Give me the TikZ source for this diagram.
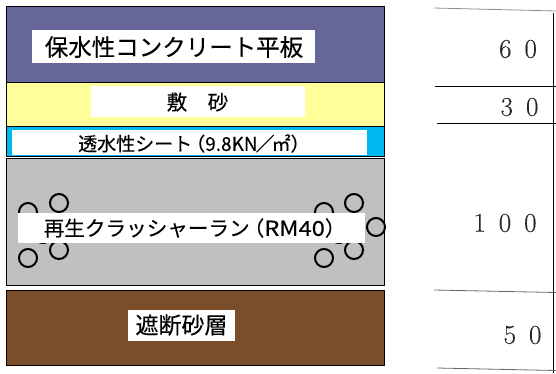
\documentclass[tikz,border=0pt]{standalone}
\usepackage{fontspec}
\setmainfont{Liberation Serif}
\newfontfamily\jpfont[FakeBold=0.25]{Noto Sans CJK JP}
\newfontfamily\numfont[FakeBold=0.3]{Latin Modern Roman}
\definecolor{cPurple}{HTML}{666699}
\definecolor{cYellow}{HTML}{FFFF99}
\definecolor{cBlue}{HTML}{00B8F0}
\definecolor{cGrey}{HTML}{C0C0C0}
\definecolor{cBrown}{HTML}{7A4E2B}
\tikzset{
  layer/.style={draw=black,line width=0.9pt},
  whitebox/.style={fill=white,draw=none},
  label/.style={inner sep=0pt,anchor=center,text=black,font=\jpfont},
  labelw/.style={label,anchor=west},
  stone/.style={draw=black,line width=2pt,fill=none},
  rulemain/.style={draw=black,line width=0.8pt},
  rulesoft/.style={draw=black!60,line width=0.8pt},
  num/.style={inner sep=0pt,anchor=center,text=black!85,font=\numfont\fontsize{27}{27}\selectfont}
}
\begin{document}
\begin{tikzpicture}[x=1pt,y=-1pt]
\useasboundingbox (0,0) rectangle (556,373);
% layers
\path[layer,fill=cPurple] (6.5,6.5) rectangle (384.5,82.5);
\path[layer,fill=cYellow] (6.5,82.5) rectangle (384.5,126.5);
\path[layer,fill=cBlue] (6.5,126.5) rectangle (384.5,156);
\path[layer,fill=cGrey] (6.5,158.5) rectangle (384.5,285);
\path[layer,fill=cBrown] (6.5,290.5) rectangle (384.5,365.5);
% stones
\foreach \cx/\cy in {59/203,28/212,59/250,28/258,43/234,354/203,324/212,376/227,354/250,324/258,339/234}
  \draw[stone] (\cx,\cy) circle (9);
% white panels and text
\fill[whitebox] (32,30) rectangle (315,63);
\node[label] (t1) at (174,47) {\fontsize{23.5}{24}\selectfont 保水性コンクリート平板};
\fill[whitebox] (91,86) rectangle (305,117);
\node[label] (t2) at (197.5,102) {\fontsize{20.5}{21}\selectfont 敷　砂};
\fill[whitebox] (12,130) rectangle (367,155);
\node[labelw] (t3) at (78,143.5) {\fontsize{19}{19}\selectfont 透水性シート\hspace{-6pt}（9.8KN\hspace{-2pt}／\hspace{-3pt}㎡）};
\fill[whitebox] (18,213) rectangle (365,243);
\node[labelw] (t4) at (43.5,228) {\fontsize{20.6}{21}\selectfont 再生クラッシャーラン\hspace{-6pt}（\scalebox{1.15}[1]{RM40}）};
\fill[whitebox] (128,310) rectangle (235,341);
\node[label] (t5) at (181.5,325) {\fontsize{23}{24}\selectfont 遮断砂層};
% dimension column
\draw[rulemain] (553,13) -- (553,373);
\draw[rulesoft,draw=black!45] (434,8) -- (556,11);
\draw[rulemain] (435,86.5) -- (556,86.5);
\draw[rulemain] (437,123.5) -- (556,123.5);
\draw[rulesoft] (434,290) -- (556,292.5);
\draw[rulesoft] (437,368) -- (556,370.5);
\node[num] (n60) at (518,49) {6\hspace{13pt}0};
\node[num] (n30) at (519.5,107) {3\hspace{13pt}0};
\node[num] (n100) at (505,223) {1\hspace{13pt}0\hspace{13pt}0};
\node[num] (n50) at (522.5,335) {5\hspace{13pt}0};
\end{tikzpicture}
\end{document}
